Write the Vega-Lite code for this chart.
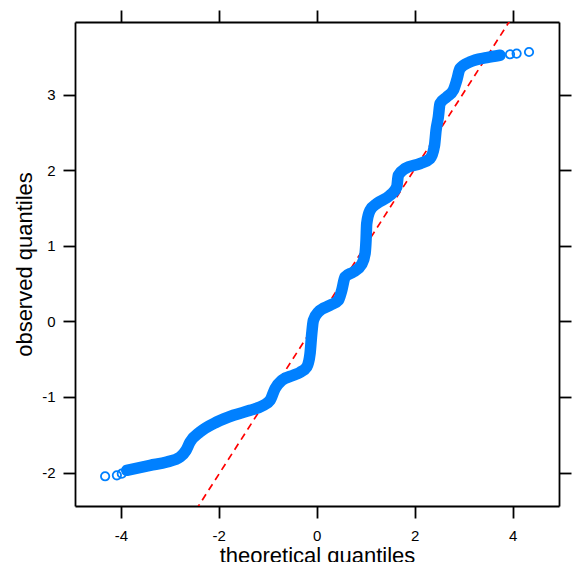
{
  "$schema": "https://vega.github.io/schema/vega-lite/v6.json",
  "width": 484,
  "height": 484,
  "autosize": "none",
  "padding": {"left": 75, "top": 22, "right": 14, "bottom": 56},
  "background": "white",
  "config": {
    "view": {"stroke": null},
    "font": "Liberation Sans",
    "axis": {
      "grid": false,
      "domainColor": "black",
      "domainWidth": 1.8,
      "tickColor": "black",
      "tickWidth": 1.8,
      "tickSize": 12,
      "labelColor": "black",
      "labelFontSize": 15,
      "labelFont": "Liberation Sans",
      "titleFont": "Liberation Sans",
      "titleFontSize": 22,
      "titleFontWeight": "normal",
      "titleColor": "black"
    }
  },
  "datasets": {
    "ref": [
      {"x": -3.0, "y": -3.034},
      {"x": 5.0, "y": 5.044}
    ],
    "qq": [
      {"x": -4.32, "y": -2.05},
      {"x": -4.08, "y": -2.037},
      {"x": -3.98, "y": -2.015},
      {"x": -3.878, "y": -1.971},
      {"x": -3.402, "y": -1.905},
      {"x": -3.061, "y": -1.861},
      {"x": -2.79, "y": -1.795},
      {"x": -2.667, "y": -1.706},
      {"x": -2.586, "y": -1.597},
      {"x": -2.382, "y": -1.464},
      {"x": -2.041, "y": -1.332},
      {"x": -1.702, "y": -1.243},
      {"x": -1.361, "y": -1.177},
      {"x": -1.09, "y": -1.111},
      {"x": -0.953, "y": -1.045},
      {"x": -0.851, "y": -0.89},
      {"x": -0.714, "y": -0.78},
      {"x": -0.478, "y": -0.714},
      {"x": -0.341, "y": -0.675},
      {"x": -0.204, "y": -0.604},
      {"x": -0.137, "y": -0.427},
      {"x": -0.102, "y": -0.163},
      {"x": -0.069, "y": 0.013},
      {"x": 0.033, "y": 0.123},
      {"x": 0.271, "y": 0.212},
      {"x": 0.441, "y": 0.278},
      {"x": 0.51, "y": 0.41},
      {"x": 0.578, "y": 0.586},
      {"x": 0.747, "y": 0.652},
      {"x": 0.918, "y": 0.754},
      {"x": 0.986, "y": 0.896},
      {"x": 1.006, "y": 1.071},
      {"x": 1.02, "y": 1.292},
      {"x": 1.088, "y": 1.468},
      {"x": 1.224, "y": 1.557},
      {"x": 1.496, "y": 1.667},
      {"x": 1.633, "y": 1.776},
      {"x": 1.665, "y": 1.931},
      {"x": 1.802, "y": 2.02},
      {"x": 2.108, "y": 2.086},
      {"x": 2.312, "y": 2.152},
      {"x": 2.404, "y": 2.328},
      {"x": 2.435, "y": 2.526},
      {"x": 2.482, "y": 2.702},
      {"x": 2.516, "y": 2.88},
      {"x": 2.653, "y": 2.967},
      {"x": 2.788, "y": 3.056},
      {"x": 2.857, "y": 3.188},
      {"x": 2.924, "y": 3.343},
      {"x": 3.129, "y": 3.43},
      {"x": 3.469, "y": 3.488},
      {"x": 3.741, "y": 3.519},
      {"x": 3.945, "y": 3.532},
      {"x": 4.08, "y": 3.541},
      {"x": 4.333, "y": 3.562}
    ]
  },
  "layer": [
    {
      "data": {"name": "ref"},
      "mark": {"type": "line", "color": "#ff0000", "strokeWidth": 1.7, "strokeDash": [7, 5], "clip": true},
      "encoding": {
        "x": {"field": "x", "type": "quantitative",
          "scale": {"domain": [-4.935, 4.945], "nice": false, "zero": false},
          "axis": {"orient": "top", "values": [-4, -2, 0, 2, 4], "labels": false, "title": null}},
        "y": {"field": "y", "type": "quantitative",
          "scale": {"domain": [-2.443, 3.959], "nice": false, "zero": false},
          "axis": {"orient": "right", "values": [-2, -1, 0, 1, 2, 3], "labels": false, "title": null}}
      }
    },
    {
      "data": {"name": "qq"},
      "transform": [{"filter": "datum.x > -3.9 && datum.x < 3.8"}],
      "mark": {"type": "line", "color": "#0080ff", "strokeWidth": 11.5, "strokeCap": "round", "strokeJoin": "round", "interpolate": "monotone"},
      "encoding": {
        "x": {"field": "x", "type": "quantitative",
          "scale": {"domain": [-4.935, 4.945], "nice": false, "zero": false},
          "axis": {"orient": "bottom", "values": [-4, -2, 0, 2, 4], "labelExpr": "datum.value + ''", "labelPadding": 10,
            "title": "theoretical quantiles", "titleX": 242, "titleY": 56, "titleBaseline": "alphabetic", "titleAlign": "center"}},
        "y": {"field": "y", "type": "quantitative",
          "scale": {"domain": [-2.443, 3.959], "nice": false, "zero": false},
          "axis": {"orient": "left", "values": [-2, -1, 0, 1, 2, 3], "labelExpr": "datum.value + ''", "labelPadding": 8,
            "title": "observed quantiles", "titleAngle": -90, "titleX": -44, "titleY": 242, "titleBaseline": "alphabetic", "titleAlign": "center"}}
      }
    },
    {
      "data": {"name": "qq"},
      "mark": {"type": "point", "shape": "circle", "filled": false, "color": "#0080ff", "size": 70, "strokeWidth": 1.8, "opacity": 1},
      "encoding": {
        "x": {"field": "x", "type": "quantitative", "scale": {"domain": [-4.935, 4.945], "nice": false, "zero": false}, "axis": null},
        "y": {"field": "y", "type": "quantitative", "scale": {"domain": [-2.443, 3.959], "nice": false, "zero": false}, "axis": null}
      }
    }
  ],
  "resolve": {"axis": {"x": "independent", "y": "independent"}}
}
